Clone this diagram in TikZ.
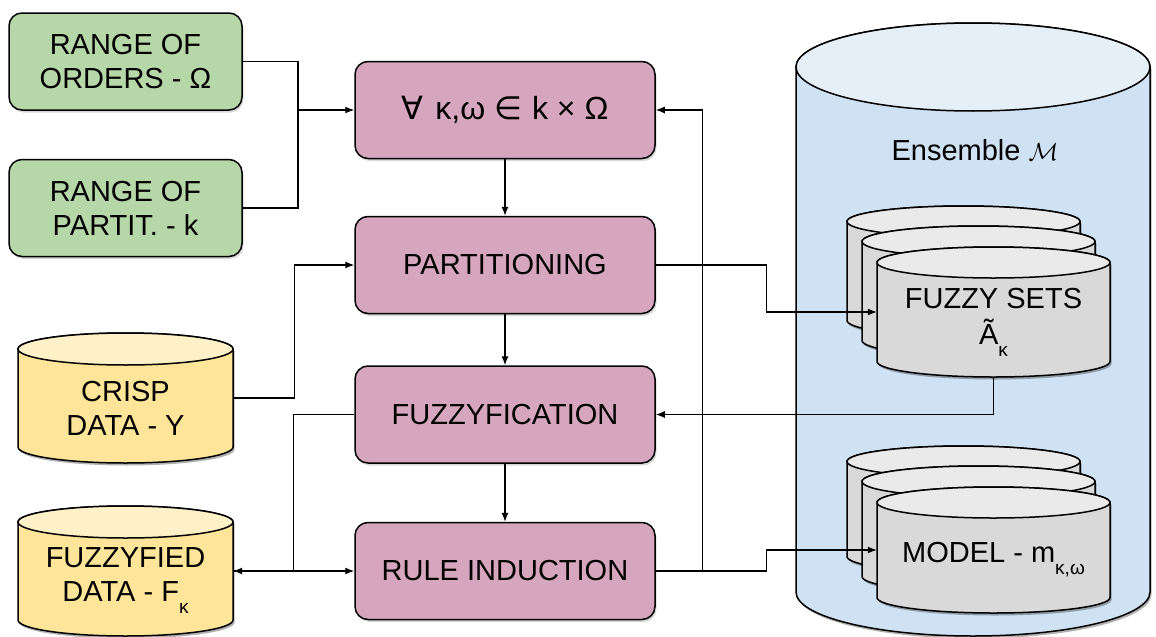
\documentclass[tikz,border=0pt]{standalone}
\usepackage{fontspec}
\setmainfont{Liberation Sans}
\newfontfamily\symf{DejaVu Sans}
\usepackage{tikz}
\usetikzlibrary{arrows.meta,shapes,shadows}
\definecolor{boxgreen}{HTML}{B6D7A8}
\definecolor{boxpink}{HTML}{D5A6BD}
\definecolor{datayellow}{HTML}{FFE599}
\definecolor{ensblue}{HTML}{CFE2F3}
\definecolor{stackgray}{HTML}{D9D9D9}
\newcommand{\lowsub}[1]{\raisebox{-12bp}{\fontsize{19bp}{19bp}\selectfont #1}}
% #1 name, #2 centre, #3 half width, #4 half height, #5 end radius, #6 colour, #7 text
\newcommand{\store}[7]{%
  \begin{scope}[shift={(#2)}]
    \fill[black,opacity=0.3,xshift=1.5bp,yshift=-2.5bp] (-#3,#4-#5) -- (-#3,-#4+#5) arc[start angle=180,end angle=360,x radius=#3,y radius=#5] -- (#3,#4-#5) arc[start angle=0,end angle=180,x radius=#3,y radius=#5] -- cycle;
    \path[draw,line width=1.5bp,fill=#6] (-#3,#4-#5) -- (-#3,-#4+#5) arc[start angle=180,end angle=360,x radius=#3,y radius=#5] -- (#3,#4-#5) arc[start angle=0,end angle=180,x radius=#3,y radius=#5] -- cycle;
    \path[draw,line width=1.5bp,fill=#6!55!white] (0,#4-#5) ellipse[x radius=#3,y radius=#5];
  \end{scope}
  \node (#1) at (#2)[minimum width=2*#3,minimum height=2*#4,inner sep=0pt,label={[align=center,yshift=-10bp]center:{#7}}] {};
}

\begin{document}
\begin{tikzpicture}[
  every node/.style={font=\fontsize{29bp}{34bp}\selectfont},
  shade box/.style={drop shadow={shadow xshift=1.5bp,shadow yshift=-2.5bp,opacity=0.3}},
  inbox/.style={draw,line width=1.5bp,rounded corners=13bp,align=center,minimum width=233bp,minimum height=97bp,fill=boxgreen,shade box},
  stepbox/.style={draw,line width=1.5bp,rounded corners=13bp,align=center,minimum width=300bp,minimum height=97bp,fill=boxpink,shade box},
  link/.style={-{Latex[length=9bp,width=7bp]},line width=1.2bp},
  wire/.style={line width=1.2bp}
]
\useasboundingbox (0bp,0bp) rectangle (1156bp,-637bp);

% ensemble store
\store{ens}{973bp,-329.5bp}{177bp}{306.5bp}{44bp}{ensblue}{}
\node (enslabel) at (975bp,-150bp) {Ensemble $\mathcal{M}$};

% stacks of fuzzy sets and models
\store{fsetsC}{963.5bp,-271bp}{116.5bp}{65bp}{15.5bp}{stackgray}{}
\store{fsetsB}{978.5bp,-291bp}{116.5bp}{65bp}{15.5bp}{stackgray}{}
\store{fsets}{993.5bp,-312bp}{116.5bp}{65bp}{15.5bp}{stackgray}{FUZZY SETS\\[2bp]Ã\lowsub{κ}}
\store{modelC}{963.5bp,-509bp}{116.5bp}{63bp}{15.5bp}{stackgray}{}
\store{modelB}{978.5bp,-529bp}{116.5bp}{63bp}{15.5bp}{stackgray}{}
\store{model}{993.5bp,-550bp}{116.5bp}{63bp}{15.5bp}{stackgray}{MODEL - m\lowsub{κ,ω}}

% inputs and data
\node (ord) at (125.5bp,-61.5bp)[inbox] {RANGE OF\\ORDERS - Ω};
\node (par) at (125.5bp,-208bp)[inbox] {RANGE OF\\PARTIT. - k};
\store{crisp}{125.5bp,-398bp}{107.5bp}{65bp}{16bp}{datayellow}{CRISP\\DATA - Y}
\store{fzdata}{125.5bp,-571bp}{107.5bp}{65bp}{16bp}{datayellow}{FUZZYFIED\\DATA - F\lowsub{κ}}

% steps
\node (loop) at (505bp,-110bp)[stepbox,font=\fontsize{32bp}{36bp}\selectfont] {{\symf ∀}\hspace{12bp}κ,ω {\symf ∈}\hspace{10bp}k × Ω};
\node (part) at (505bp,-265bp)[stepbox] {PARTITIONING};
\node (fuzz) at (505bp,-414.5bp)[stepbox] {FUZZYFICATION};
\node (rule) at (505bp,-571bp)[stepbox] {RULE INDUCTION};

\coordinate (jin) at (298bp,-110bp);
\draw [wire] (ord.east) -| (jin);
\draw [wire] (par.east) -| (jin);
\draw [link] (jin) -- (loop.west);
\draw [link] (loop) -- (part);
\draw [link] (part) -- (fuzz);
\draw [link] (fuzz) -- (rule);
\draw [link] (crisp.east) -- ++(61bp,0) |- (part.west);
\draw [link] (fuzz.west) -- ++(-61bp,0) |- (fzdata.east);
\draw [link] (fzdata.east) -- (rule.west);
\draw [link] (part.east) -- ++(111bp,0) |- (fsets.west);
\draw [link] (fsets.south) |- (fuzz.east);
\draw [link] (rule.east) -- ++(111bp,0) |- (model.west);
\draw [link] (rule.east) -- ++(47bp,0) |- (loop.east);
\end{tikzpicture}
\end{document}
